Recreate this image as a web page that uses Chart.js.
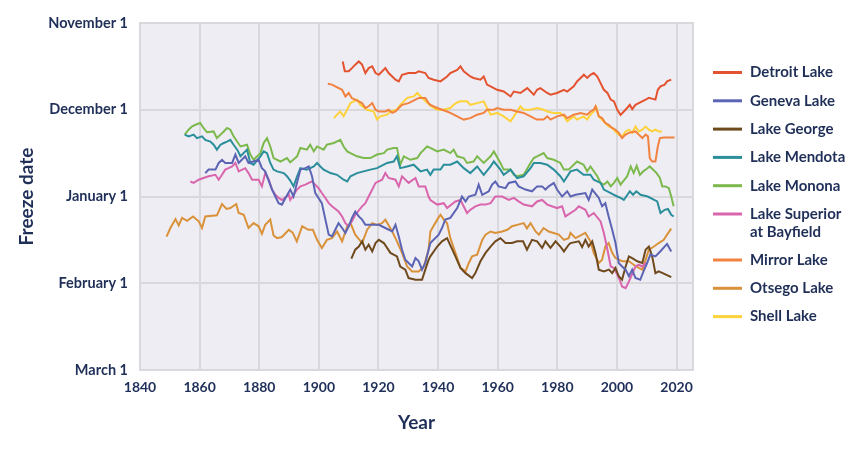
<!DOCTYPE html>
<html>
<head>
<meta charset="utf-8">
<script src="https://cdn.jsdelivr.net/npm/chart.js@4/dist/chart.umd.min.js"></script>
<style>
html,body{margin:0;padding:0;background:#fff;}
#wrap{position:relative;width:864px;height:468px;}
</style>
</head>
<body>
<div id="wrap"><canvas id="c" width="864" height="468"></canvas></div>
<script>
// y values: days after November 1 on the chart's evenly spaced month axis
const yTickValues = [0, 30, 60, 90, 120];
const yTickLabels = ['November 1', 'December 1', 'January 1', 'February 1', 'March 1'];
const xTickValues = [1840, 1860, 1880, 1900, 1920, 1940, 1960, 1980, 2000, 2020];

const lakeNames = ['Detroit Lake', 'Geneva Lake', 'Lake George', 'Lake Mendota', 'Lake Monona',
  ['Lake Superior', 'at Bayfield'], 'Mirror Lake', 'Otsego Lake', 'Shell Lake'];
const lakeColors = ['#e4532f', '#5c64b4', '#6f4a1d', '#2a8f9b', '#7cb94c', '#d966ad', '#f28240', '#d9923a', '#fdd23a'];

const detroitLake = [[1908,13.3],[1908.7,16.7],[1910,16.7],[1911.1,15.6],[1912.2,14.4],[1913.4,13.3],[1914.5,14.4],[1915.6,17.3],[1916.7,15.6],[1917.9,15],[1919,17.3],[1920.1,17.9],[1922.3,15.6],[1923.4,17.3],[1925.7,19.6],[1926.8,20.2],[1927.9,17.9],[1930.1,17.3],[1932.4,17.3],[1933.5,16.7],[1935.7,17.3],[1936.8,19],[1938.5,19.6],[1940.8,20.2],[1943,18.5],[1944.1,17.3],[1946.4,16.2],[1947.5,15],[1948.6,16.7],[1950.8,18.5],[1951.9,19],[1954.2,19.6],[1955.3,18.5],[1956.4,21.3],[1957.6,21.9],[1959.8,23.1],[1962,23.7],[1964.3,25.4],[1965.4,23.7],[1967.6,24.2],[1969.9,22.5],[1972.1,24.8],[1973.2,23.1],[1974.3,22.5],[1976.6,24.2],[1977.7,24.8],[1979.9,24.2],[1982.2,23.1],[1983.3,23.7],[1985.5,21.9],[1986.6,20.2],[1987.8,19],[1988.9,17.9],[1990,19],[1991.1,17.9],[1992.2,17.3],[1993.4,18.5],[1994.5,20.8],[1995.6,23.1],[1996.8,24.2],[1997.9,26.5],[1999,27.1],[2000.1,30],[2001.2,31.8],[2002.3,30.6],[2003.4,29.4],[2004.3,28.3],[2005.1,29.8],[2006.2,28.3],[2007.3,27.7],[2009.6,26.5],[2010.7,25.9],[2012.9,26.5],[2013.7,23.1],[2014.6,21.9],[2016,21.3],[2016.8,20.2],[2018.2,19.6]];

const genevaLake = [[1861.9,51.9],[1863,50.7],[1865.3,50.7],[1866.4,48.4],[1867.5,47.3],[1868.6,48.4],[1870.9,48.4],[1872,45.5],[1873.1,48.4],[1875.3,46.1],[1876.4,48.4],[1879.8,47.3],[1880.9,50.2],[1882,51.3],[1884.3,57.6],[1885.4,60],[1886.5,62.3],[1887.6,62.8],[1888.8,60.5],[1890.4,57.6],[1891.5,60],[1893.8,50.7],[1895.5,50.2],[1896.6,49.6],[1897.7,53],[1898.8,58.8],[1901,62.3],[1902.2,68],[1903.3,73.2],[1904.4,73.8],[1905.5,71.5],[1906.6,69.2],[1907.8,70.9],[1908.9,72.6],[1910,70.3],[1911.1,67.4],[1912.2,65.2],[1913.4,66.9],[1914.5,68],[1915.6,69.8],[1917.9,69.8],[1920.1,69.8],[1922.3,70.9],[1924.6,72.1],[1925.7,69.8],[1926.8,73.8],[1927.9,78.4],[1929,81.9],[1930.1,83],[1931.3,84.2],[1932.4,81.3],[1933.5,82.4],[1934.6,85.3],[1935.7,83],[1936.8,78.4],[1937.4,76.1],[1940.2,73.2],[1941.3,70.9],[1942.4,68],[1944.1,67.4],[1946.4,64],[1948,60],[1949.2,61.7],[1950.3,60],[1952.5,59.4],[1953.6,55.9],[1954.8,59.4],[1957,58.2],[1958.1,55.9],[1959.2,54.8],[1960.3,56.5],[1962.6,57.1],[1963.7,55.3],[1965.9,54.8],[1967,56.5],[1969.3,57.6],[1971.5,58.2],[1973.2,56.5],[1974.9,56.5],[1976,57.6],[1977.1,56.5],[1978.8,55.3],[1979.9,57.6],[1981.6,60],[1983.3,58.2],[1984.4,60],[1986.1,59.4],[1989.4,58.8],[1990.5,61.2],[1991.7,57.6],[1993.9,60.5],[1995,63.4],[1996.1,62.3],[1997.2,66.9],[1998.4,71.5],[1999.5,76.1],[2000.6,83],[2001.7,84.2],[2002.9,85.3],[2004,87.6],[2005.1,85.3],[2006.2,88.2],[2007.8,88.8],[2008.9,85.9],[2010.1,83],[2011.2,80.1],[2012.9,80.7],[2014.5,79],[2016.8,76.4],[2018.2,79]];

const lakeGeorge = [[1910.9,81.5],[1912.2,78.4],[1913.4,77.3],[1914.5,75.5],[1915.6,78.4],[1916.7,76.7],[1917.9,79],[1919,76.1],[1920.1,75],[1921.8,76.1],[1924,79.5],[1926.2,80.7],[1927.3,84.2],[1929,85.3],[1930.1,88.2],[1932.4,88.8],[1934.6,88.8],[1935.7,85.3],[1936.8,81.9],[1937.4,80.7],[1939.7,77.3],[1941.3,75.5],[1943,74.4],[1945.8,80.7],[1947.5,84.7],[1949.2,86.5],[1951.4,88.2],[1952.5,86.5],[1954.2,82.4],[1955.9,79.5],[1957.6,77.3],[1959.2,75.5],[1960.9,74.4],[1962.6,76.1],[1964.8,76.1],[1966.5,75.5],[1968.5,75.5],[1969.8,78.4],[1971.5,75],[1973.2,75.5],[1974.9,77.8],[1976,75.5],[1977.7,77.8],[1979.4,75.5],[1981,77.3],[1982.2,79],[1983.8,76.7],[1984.4,76.1],[1987.2,75.5],[1988.3,77.5],[1989.4,75],[1990.5,77.3],[1991.7,75.5],[1992.8,79.5],[1993.9,85.3],[1995.6,85.9],[1997.3,85.3],[1998.4,86.5],[1999.5,84.7],[2000.6,87.6],[2001.7,88.8],[2002.9,84.2],[2004,80.7],[2005.1,81.3],[2006.8,82.4],[2008.5,83],[2009.6,78.4],[2010.7,77.3],[2011.8,80.7],[2012.9,86.5],[2014,85.9],[2015.7,86.7],[2018.2,87.9]];

const lakeMendota = [[1855,38.6],[1856.3,39.2],[1858,38.6],[1859.1,39.8],[1860.8,39.2],[1861.9,40.4],[1863.6,41],[1864.7,42.1],[1865.8,43.8],[1867,42.1],[1868.1,41.5],[1869.2,41],[1870.3,40.4],[1871.4,42.1],[1872.6,43.8],[1873.7,46.1],[1875.9,43.8],[1877,48.4],[1878.1,49],[1880.4,46.1],[1881.5,44.4],[1882.6,45],[1883.7,48.4],[1884.8,50.7],[1886,51.3],[1888.2,51.9],[1889.3,53],[1890.4,54.5],[1891.5,56.5],[1892.7,53],[1893.8,50.2],[1896,50.7],[1898.3,49.6],[1899.4,48.4],[1900.5,49.6],[1901.6,50.7],[1903.9,51.9],[1906.1,52.5],[1908.3,54.2],[1909.5,54.8],[1910.6,53],[1912.8,51.9],[1915,51.3],[1917.3,50.7],[1919.5,50.2],[1921.8,49],[1922.9,48.4],[1925.1,47.9],[1926.2,46.1],[1927.3,50.2],[1929.6,49.6],[1931.8,49],[1934.1,51.3],[1936.3,50.7],[1937.4,52.5],[1938.5,50.7],[1940.8,50.7],[1941.9,49],[1944.1,49],[1946.4,47.9],[1948.6,50.2],[1950.8,51.9],[1953.1,49.6],[1955.3,52.5],[1957.6,49.6],[1958.7,47.9],[1960.9,50.7],[1962,52.5],[1964.3,50.7],[1966.5,53.6],[1968.7,53],[1971,50.2],[1972.1,48.4],[1974.3,48.4],[1976.6,49],[1978.8,50.7],[1981,53],[1982.2,54.8],[1984.4,51.3],[1986.6,50.7],[1988.8,52.5],[1991.1,52.5],[1992.2,54.2],[1994.5,55.3],[1995.6,57.6],[1997.9,58.8],[1999,59.4],[2000.1,60],[2001.2,60.5],[2002.3,61.2],[2004.3,58.2],[2005.4,59.4],[2006.5,58.2],[2007.9,59.4],[2010.3,60],[2012.5,61.2],[2013.5,61.7],[2014.6,65.7],[2016,64.6],[2017.1,64.3],[2018.2,66.3],[2019,66.9]];

const lakeMonona = [[1855,38.6],[1856.3,36.9],[1857.4,35.8],[1858.6,35.2],[1860.2,34.6],[1861.3,36.3],[1862.5,37.8],[1864.7,37.5],[1865.8,39.8],[1867,38.6],[1868.1,37.5],[1869.2,36.3],[1870.3,36.9],[1871.4,39.2],[1873.7,42.7],[1875.9,42.1],[1877,45.5],[1878.1,47.3],[1880.4,45],[1881.5,41.5],[1882.6,39.8],[1883.7,42.7],[1884.8,46.7],[1887.1,47.9],[1889.3,46.7],[1890.4,48.2],[1892.7,46.1],[1893.8,43.2],[1896,43.8],[1897.1,42.1],[1898.3,44.4],[1899.4,42.7],[1901.6,43.8],[1902.7,42.1],[1905,41.5],[1907.2,40.4],[1908.3,42.7],[1909.5,44.4],[1910.6,45],[1912.8,46.1],[1915,46.7],[1917.3,46.7],[1919.5,45.5],[1921.8,45],[1922.9,43.8],[1925.1,43.2],[1926.2,43.2],[1927.3,49],[1928.5,46.1],[1930.7,47.3],[1933,46.7],[1934.1,45],[1936.3,42.7],[1937.4,43.2],[1939.7,44.4],[1941.9,43.8],[1944.1,45],[1945.2,43.8],[1946.4,46.1],[1948.6,46.7],[1949.7,48.4],[1951.9,47.9],[1953.1,46.1],[1955.3,48.4],[1957.6,46.1],[1958.7,44.4],[1960.9,48.4],[1962,50.7],[1964.3,50.7],[1965.4,52.5],[1966.5,53],[1968.7,52.5],[1971,48.4],[1972.1,46.7],[1973.2,46.1],[1975.4,45],[1976.6,46.7],[1978.8,47.3],[1981,48.4],[1982.2,50.7],[1983.8,50.7],[1986.6,47.9],[1988.8,49],[1990,51.3],[1991.1,49.6],[1993.4,53],[1994.5,55.3],[1995.6,55.9],[1996.8,54.8],[1997.9,56.5],[1999,55.3],[2000.1,53.6],[2001.2,55.9],[2003.4,53],[2004.6,49.6],[2005.6,51.9],[2006.6,49.4],[2007.7,52.5],[2008.8,51.3],[2009.9,50.5],[2011,49.6],[2013.3,51.9],[2014.4,53.6],[2015.2,56.5],[2016.3,56.5],[2017.4,57.1],[2018.2,60],[2019,63.4]];

const lakeSuperior = [[1856.9,54.8],[1858,55.3],[1859.7,54.2],[1861.3,53.6],[1863,53],[1865.3,52.5],[1866.4,54.2],[1867.5,52.5],[1868.6,50.7],[1869.7,50.2],[1870.9,49.6],[1872,48.4],[1873.1,51.3],[1875.3,50.2],[1876.4,51.9],[1877.6,54.2],[1879.8,54.2],[1880.9,56.5],[1882,51.9],[1883.2,54.2],[1884.3,57.6],[1885.4,59.4],[1886.5,60.5],[1887.6,61.2],[1889.9,59.4],[1890.4,61.2],[1892.7,57.6],[1893.8,56.5],[1895.5,55.9],[1896.6,55.3],[1897.7,54.8],[1899.9,57.1],[1901,58.8],[1902.2,60.5],[1903.3,62.3],[1904.4,63.4],[1906.6,65.2],[1907.8,66.9],[1908.9,69.2],[1910,70.3],[1911.1,68.6],[1912.2,66.3],[1914.5,63.4],[1915.6,62.3],[1916.7,60],[1917.9,57.6],[1919,55.3],[1921.2,54.2],[1922.3,51.9],[1923.4,53.6],[1925.7,54.2],[1926.8,56.5],[1927.9,53],[1930.1,55.3],[1932.4,53.6],[1933.5,56.5],[1935.7,56.5],[1936.8,60],[1937.4,61.2],[1939.7,62.8],[1941.9,62.3],[1943,64],[1945.8,61.7],[1947.5,61.2],[1949.7,65.7],[1950.8,64.6],[1952.5,63.4],[1954.2,62.8],[1955.9,62.8],[1957.6,62.3],[1959.2,60],[1961.5,60],[1963.7,61.2],[1965.4,60.5],[1967,61.7],[1968.7,62.8],[1971.5,63.4],[1973.2,61.7],[1974.9,61.2],[1976.6,62.8],[1979.9,64],[1981.6,63.4],[1982.7,66.9],[1986.1,64.6],[1987.2,63.4],[1989.4,64.6],[1990.5,66.9],[1992.2,65.7],[1994.5,68.6],[1995.6,72.6],[1996.8,78.4],[1997.9,84.2],[1999,84.7],[2000.9,88.8],[2001.7,91.1],[2002.9,91.7],[2004,89.4],[2006.2,84.2],[2007.3,83.6],[2008.5,84.2],[2009.6,83]];

const mirrorLake = [[1903,21],[1904.4,21.3],[1905.5,21.9],[1907.8,23.1],[1908.9,25.4],[1910,24.2],[1911.1,26],[1912.2,26.5],[1913.4,27.1],[1914.5,27.7],[1915.6,29.4],[1916.7,28.8],[1917.9,27.7],[1919,30],[1920.1,30.6],[1922.3,30.6],[1923.4,30],[1924.6,31.1],[1925.7,30.6],[1926.8,29.4],[1927.9,28.3],[1930.1,27.7],[1932.4,26.5],[1933.5,25.9],[1935.7,25.9],[1936.8,27.7],[1937.4,28.3],[1939.7,29.4],[1943,30.6],[1944.1,31.1],[1946.4,32.3],[1947.5,32.9],[1948.6,33.4],[1950.8,32.9],[1953.1,31.7],[1955.3,31.1],[1956.4,30],[1958.7,30],[1959.8,29.4],[1962,30],[1964.3,30],[1966.5,30.6],[1968.7,31.1],[1971,32.3],[1972.1,32.9],[1973.2,33.4],[1975.4,33.4],[1976.6,32.3],[1977.7,33.4],[1979.9,32.3],[1982.2,31.7],[1983.3,32.9],[1985.5,31.7],[1987.8,31.1],[1990,31.7],[1991.1,30.6],[1992.2,30],[1992.8,28.8],[1993.9,32.3],[1995,32.9],[1996.1,34.6],[1997.2,35.2],[1998.4,36.3],[1999.5,36.9],[2000.6,38],[2001.7,39.8],[2002.9,38.6],[2004,38],[2006.2,37.5],[2007.3,38.6],[2008.5,39.8],[2009.6,38.6],[2010.4,39.2],[2011,46.7],[2011.8,47.9],[2012.9,47.9],[2013.7,42.7],[2014.4,39.8],[2015.7,39.6],[2019.3,39.6]];

const otsegoLake = [[1848.9,73.9],[1850.2,70.9],[1851.9,67.8],[1853,70],[1854.1,67.4],[1855.8,68.4],[1857.8,66.9],[1859.7,68.6],[1860.8,70.9],[1861.9,66.9],[1865.8,66.5],[1867.5,62.6],[1869,64.3],[1870.3,64],[1872.3,62.6],[1873.1,65.7],[1874.8,66.3],[1876.4,70.9],[1878.1,69.2],[1879.8,70.3],[1880.9,72.9],[1882,69.8],[1883.7,68],[1884.8,73.5],[1886,74.4],[1887.6,74],[1889.9,71.5],[1891.2,72.5],[1892.6,75.5],[1894.4,70.3],[1896.5,71.5],[1898,71.5],[1899.4,75],[1901,77.8],[1902.7,75],[1904.4,74.4],[1906.1,72.1],[1907.8,75.5],[1909.5,70.3],[1910.6,69.2],[1912.2,73.2],[1914.5,76.1],[1916.2,71.5],[1917.9,69.2],[1919.5,69.8],[1921.2,69.2],[1922.3,68],[1924.6,72.1],[1926.2,75.5],[1927.9,79.5],[1929.6,84.2],[1931.3,85.9],[1933.5,85.9],[1935.2,84.2],[1936.8,78.4],[1937.4,72.1],[1939.7,68],[1940.8,66.3],[1941.9,68],[1943,69.2],[1944.1,74.4],[1945.8,79.5],[1947.5,84.7],[1949.2,85.9],[1950.3,83],[1951.4,80.7],[1953.1,80.1],[1954.8,75],[1955.9,73.2],[1957.6,72.1],[1959.2,72.6],[1961.5,72.1],[1963.2,71.5],[1964.8,70.3],[1966.5,69.8],[1968.7,69.2],[1969.8,71],[1971,69.2],[1972.7,72.1],[1973.8,73.2],[1975.4,70.9],[1977.1,72.1],[1980.5,73.2],[1982.2,75],[1983.8,74.4],[1984.4,72.6],[1986.1,74.4],[1989.4,72.6],[1991.1,75.5],[1992.2,79.5],[1993.9,83],[1995,81.9],[1996.1,77.3],[1997.2,76.1],[1998.4,79.5],[1999.5,81.3],[2001.7,82.4],[2004,82.4],[2005.6,83.6],[2007.3,84.7],[2008.5,85.3],[2009.6,81.9],[2010.7,78.4],[2012.4,77.3],[2014,76.1],[2015.7,75],[2016.8,73.2],[2018.2,71.1]];

const shellLake = [[1905,32.9],[1906.1,31.7],[1907.2,30.6],[1908.3,32.3],[1910.6,27.7],[1911.7,27.1],[1912.8,26.5],[1913.9,28.3],[1916.2,30],[1918.4,30.6],[1919.5,33.4],[1920.6,32.3],[1922.9,31.7],[1924,30.6],[1926.2,30],[1927.3,28.3],[1928.5,27.1],[1929.6,25.9],[1931.8,25.4],[1933,24.2],[1935.2,26.5],[1937.4,28.6],[1939.7,30],[1941.9,30],[1944.1,29.4],[1945.2,28.3],[1946.4,27.5],[1947.5,27.1],[1949.7,27.1],[1950.8,28.3],[1953.1,27.7],[1955.3,27.1],[1956.4,29.4],[1957.6,31.7],[1959.8,31.1],[1962,32.3],[1964.3,34],[1966.5,30.6],[1967.6,28.8],[1968.7,30],[1971,30],[1973.2,29.4],[1975.4,30],[1976.6,30.6],[1978.8,31.1],[1981,31.1],[1982.2,32.3],[1983.3,34],[1985.5,32.3],[1986.6,33.4],[1988.8,32.3],[1990,33.4],[1991.1,31.7],[1992.2,30.6],[1993.1,29.1],[1993.9,32.3],[1996.1,34.6],[1997.2,35.8],[1998.4,36.3],[1999.5,37.5],[2000.6,38.6],[2001.7,39.2],[2002.9,37.5],[2004,36.9],[2005.1,38],[2006.2,35.8],[2007.3,37.5],[2008.5,36.9],[2009.6,35.8],[2010.7,36.9],[2011.8,37.5],[2012.9,36.9],[2014,37.5],[2015.1,37.5]];

const lakeSeries = [detroitLake, genevaLake, lakeGeorge, lakeMendota, lakeMonona, lakeSuperior, mirrorLake, otsegoLake, shellLake];

const textColor = '#1f2f58';
const fontFamily = 'Lato, "Open Sans", sans-serif';

const datasets = lakeSeries.map((s, i) => ({
  label: Array.isArray(lakeNames[i]) ? lakeNames[i].join(' ') : lakeNames[i],
  data: s.map(p => ({x: p[0], y: p[1]})),
  borderColor: lakeColors[i],
  backgroundColor: lakeColors[i],
  borderWidth: 2,
  pointRadius: 0,
  tension: 0,
  fill: false
}));

const plotBg = {
  id: 'plotBg',
  beforeDraw(chart) {
    const {ctx, chartArea: a} = chart;
    ctx.save();
    ctx.fillStyle = '#efedf4';
    ctx.fillRect(a.left, a.top, a.right - a.left, a.bottom - a.top);
    ctx.restore();
  },
  beforeDatasetsDraw(chart) {
    const {ctx, chartArea: a} = chart;
    ctx.save();
    ctx.strokeStyle = '#d9d8dc';
    ctx.lineWidth = 2;
    ctx.strokeRect(a.left, a.top, a.right - a.left, a.bottom - a.top);
    ctx.restore();
  }
};

const sideLegend = {
  id: 'sideLegend',
  afterDraw(chart) {
    const ctx = chart.ctx;
    ctx.save();
    ctx.font = 'bold 15px ' + fontFamily;
    ctx.textBaseline = 'middle';
    ctx.textAlign = 'left';
    let y = 72.5;
    lakeNames.forEach((name, i) => {
      ctx.strokeStyle = lakeColors[i];
      ctx.lineWidth = 3;
      ctx.beginPath();
      ctx.moveTo(713, y);
      ctx.lineTo(742, y);
      ctx.stroke();
      ctx.fillStyle = textColor;
      const lines = Array.isArray(name) ? name : [name];
      lines.forEach((t, j) => ctx.fillText(t, 750, y + j * 18));
      y += 28.3 + (lines.length - 1) * 17.7;
    });
    ctx.restore();
  }
};

new Chart(document.getElementById('c'), {
  type: 'line',
  data: {datasets},
  plugins: [plotBg, sideLegend],
  options: {
    responsive: false,
    animation: false,
    layout: {padding: {left: 0, right: 171, top: 23, bottom: 0}},
    plugins: {legend: {display: false}, tooltip: {enabled: false}},
    scales: {
      x: {
        type: 'linear',
        min: 1840,
        max: 2025.5,
        afterBuildTicks(scale) { scale.ticks = xTickValues.map(v => ({value: v})); },
        afterFit(scale) { scale.height = 98; },
        grid: {color: '#d9d8dc', lineWidth: 2, drawTicks: false},
        border: {display: false},
        ticks: {
          padding: 9,
          color: textColor,
          font: {family: fontFamily, size: 14, weight: 'bold'},
          maxRotation: 0,
          callback: v => String(v)
        },
        title: {
          display: true,
          text: 'Year',
          color: textColor,
          font: {family: fontFamily, size: 19, weight: 'bold'},
          padding: {top: 0, bottom: 34}
        }
      },
      y: {
        type: 'linear',
        reverse: true,
        min: 0,
        max: 120,
        afterBuildTicks(scale) { scale.ticks = yTickValues.map(v => ({value: v})); },
        afterFit(scale) { scale.width = 140; },
        grid: {color: '#d9d8dc', lineWidth: 2, drawTicks: false},
        border: {display: false},
        ticks: {
          padding: 12,
          color: textColor,
          font: {family: fontFamily, size: 14.5, weight: 'bold'},
          callback: v => yTickLabels[yTickValues.indexOf(v)]
        },
        title: {
          display: true,
          text: 'Freeze date',
          color: textColor,
          font: {family: fontFamily, size: 19, weight: 'bold'},
          padding: {top: 15, bottom: 0}
        }
      }
    }
  }
});
</script>
</body>
</html>
